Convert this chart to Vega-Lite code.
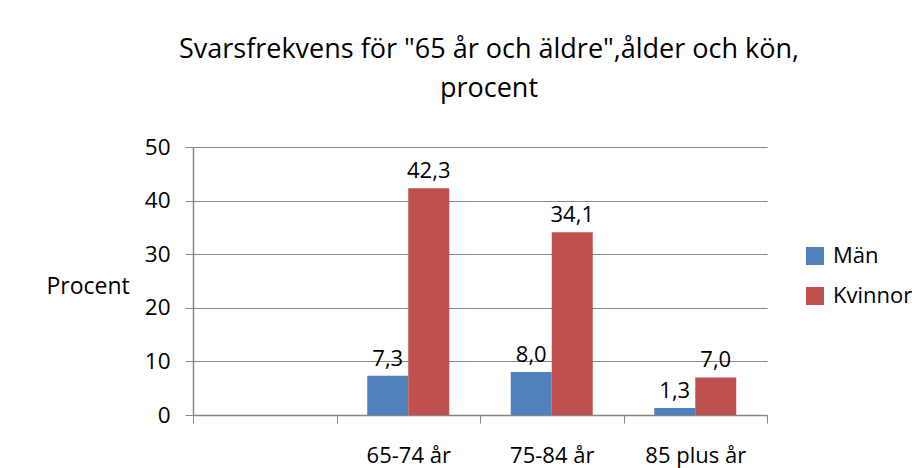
{
  "$schema": "https://vega.github.io/schema/vega-lite/v6.json",
  "width": 574,
  "height": 268,
  "autosize": {"type": "none"},
  "padding": {"left": 193, "top": 147, "right": 145, "bottom": 53},
  "background": "white",
  "title": {
    "text": ["Svarsfrekvens för \"65 år och äldre\",ålder och kön,", "procent"],
    "font": "Open Sans",
    "fontSize": 27,
    "fontWeight": "normal",
    "color": "#000000",
    "anchor": "middle",
    "lineHeight": 39,
    "offset": 33,
    "dx": 9
  },
  "data": {
    "values": [
      {"age": "65-74 år", "sex": "Män", "value": 7.3},
      {"age": "65-74 år", "sex": "Kvinnor", "value": 42.3},
      {"age": "75-84 år", "sex": "Män", "value": 8.0},
      {"age": "75-84 år", "sex": "Kvinnor", "value": 34.1},
      {"age": "85 plus år", "sex": "Män", "value": 1.3},
      {"age": "85 plus år", "sex": "Kvinnor", "value": 7.0}
    ]
  },
  "encoding": {
    "x": {
      "field": "age",
      "type": "nominal",
      "sort": null,
      "scale": {"domain": ["", "65-74 år", "75-84 år", "85 plus år"], "paddingInner": 0, "paddingOuter": 0},
      "axis": {
        "title": null,
        "labelAngle": 0,
        "tickBand": "extent",
        "ticks": true,
        "tickSize": 8,
        "tickColor": "#868686",
        "domainColor": "#868686",
        "domainWidth": 1.5,
        "labelFont": "Open Sans",
        "labelFontSize": 22,
        "labelColor": "#000000",
        "labelPadding": 22,
        "grid": false
      }
    },
    "xOffset": {
      "field": "sex",
      "type": "nominal",
      "sort": ["Män", "Kvinnor"],
      "scale": {"paddingInner": 0, "paddingOuter": 0.75}
    },
    "y": {
      "field": "value",
      "type": "quantitative",
      "scale": {"domain": [0, 50], "nice": false},
      "axis": {
        "values": [0, 10, 20, 30, 40, 50],
        "title": "Procent",
        "titleAngle": 0,
        "titleFont": "Open Sans",
        "titleFontSize": 23,
        "titleFontWeight": "normal",
        "titleColor": "#000000",
        "titleAlign": "left",
        "titleBaseline": "alphabetic",
        "titleX": -147,
        "titleY": 146,
        "grid": true,
        "gridColor": "#868686",
        "gridWidth": 1.2,
        "tickSize": 8,
        "tickColor": "#868686",
        "domainColor": "#868686",
        "domainWidth": 1.5,
        "labelFont": "Open Sans",
        "labelFontSize": 22.5,
        "labelColor": "#000000",
        "labelPadding": 15
      }
    }
  },
  "layer": [
    {
      "mark": {"type": "bar"},
      "encoding": {
        "color": {
          "field": "sex",
          "type": "nominal",
          "sort": ["Män", "Kvinnor"],
          "scale": {"domain": ["Män", "Kvinnor"], "range": ["#4F81BD", "#C0504D"]},
          "legend": {
            "title": null,
            "orient": "none",
            "legendX": 611,
            "legendY": 98,
            "symbolType": "square",
            "symbolSize": 324,
            "symbolStrokeWidth": 0,
            "symbolOpacity": 1,
            "labelFont": "Open Sans",
            "labelFontSize": 22,
            "labelColor": "#000000",
            "labelOffset": 7,
            "rowPadding": 18,
            "padding": 0
          }
        }
      }
    },
    {
      "mark": {"type": "text", "baseline": "alphabetic", "dy": -10, "font": "Open Sans", "fontSize": 22, "color": "#000000"},
      "encoding": {
        "text": {"field": "value", "type": "quantitative", "format": ".1f"}
      }
    }
  ],
  "config": {
    "view": {"stroke": null},
    "locale": {"number": {"decimal": ",", "thousands": " ", "grouping": [3], "currency": ["", " kr"]}}
  }
}
